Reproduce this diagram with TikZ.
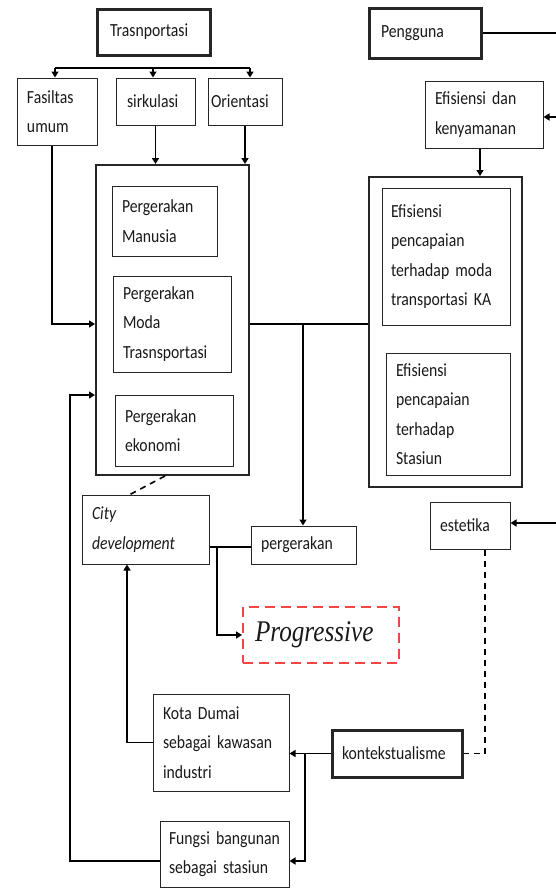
\documentclass[tikz,border=0pt]{standalone}
\usepackage{fontspec}
\setmainfont{Carlito}[FakeStretch=0.85,WordSpace=0.6]
\newfontfamily\progfont[FakeStretch=0.84]{Liberation Serif}
\usetikzlibrary{arrows.meta}
\definecolor{progred}{RGB}{240,70,70}
\hyphenpenalty=10000
\exhyphenpenalty=10000
\tikzset{
  bx/.style={draw=black!85, line width=1pt, inner ysep=0pt, align=left,
    font=\fontsize{18.5}{29.5}\selectfont, text=black!90},
  thickbx/.style={bx, line width=3pt},
  midbx/.style={bx, line width=2pt},
  progbx/.style={draw=progred, line width=2pt, dash pattern=on 10pt off 6pt, inner ysep=0pt,
    align=left, font=\fontsize{30}{32}\selectfont\progfont\itshape, text=black!90},
  place/.style args={#1,#2,#3,#4,#5}{at={({(#1+#3)/2},{(#2+#4)/2})},
    minimum width={(#3-#1)*1pt}, minimum height={(#4-#2)*1pt},
    text width={(#3-#1-2*#5)*1pt}, inner xsep=#5pt},
  conn/.style={line width=1.8pt},
  arr/.style={conn, -{Triangle[length=6pt,width=7pt]}},
  dsh/.style={line width=1.6pt, dash pattern=on 6pt off 5pt},
}
\begin{document}
\begin{tikzpicture}[x=1pt,y=-1pt]
\useasboundingbox (0,0) rectangle (555,889);
% nodes
\node[thickbx, place={97,9,210,55,13}] (trans) {Trasnportasi};
\node[bx, place={17,78,97,145,10}] (fas) {Fasiltas\\umum};
\node[bx, place={116,78,195,125,11}] (sirk) {sirkulasi};
\node[bx, place={208,78,282,125,3}] (ori) {Orientasi};
\node[midbx, place={96,165,249,475,5}] (main) {};
\node[bx, place={112,186,217,256,10}] (pm) {Pergerakan\\Manusia};
\node[bx, place={113,276,231,372,10}] (pmt) {Pergerakan\\Moda\\Trasnsportasi};
\node[bx, place={115,395,233,466,10}] (pe) {Pergerakan\\ekonomi};
\node[thickbx, place={369,8,481,58,12}] (peng) {Pengguna};
\node[bx, place={425,81,543,148,10}] (efk) {Efisiensi~dan\\kenyamanan};
\node[midbx, place={369,177,522,487,5}] (eff) {};
\node[bx, place={382,188,510,325,9}] (ef1) {Efisiensi\\pencapaian\\terhadap~moda\\transportasi~KA\\[4pt]};
\node[bx, place={386,353,510,475,10}] (ef2) {Efisiensi\\pencapaian\\terhadap\\Stasiun};
\node[bx, place={82,495,209,564,10}, font=\fontsize{18.5}{29.5}\selectfont\itshape] (city) {City\\development};
\node[bx, place={251,526,356,564,10}] (perg) {pergerakan};
\node[progbx, place={243,607,399,663,12}] (prog) {Progressive};
\node[bx, place={430,502,510,549,10}] (est) {estetika};
\node[bx, place={153,694,289,791,10}] (kota) {Kota~Dumai\\sebagai~kawasan\\industri};
\node[thickbx, place={332,730,462,777,10}] (kont) {kontekstualisme};
\node[bx, place={160,821,289,887,9}] (fung) {Fungsi~bangunan\\sebagai~stasiun};
% helper coordinates
\coordinate (bar1) at (55,68);
\coordinate (bar2) at (153,68);
\coordinate (bar3) at (250,68);
\coordinate (f1) at (52,0);
\coordinate (y324) at (0,324);
\coordinate (x303) at (303,0);
\coordinate (edge1) at (556,33);
\coordinate (edge2) at (556,117);
\coordinate (edge3) at (556,523);
\coordinate (x480) at (480,0);
\coordinate (d1) at (165,0);
\coordinate (d2) at (130,0);
\coordinate (y547) at (0,547);
\coordinate (x217) at (217,0);
\coordinate (x485) at (485,0);
\coordinate (x305) at (305,0);
\coordinate (y861) at (0,861);
\coordinate (x127) at (127,0);
\coordinate (x70) at (70,0);
\coordinate (y395) at (0,395);
% connectors
\draw[conn, line width=2.4pt] (bar1) -- (bar3);
\draw[arr] (bar1) -- (bar1 |- fas.north);
\draw[arr] (bar2) -- (bar2 |- sirk.north);
\draw[arr] (bar3) -- (bar3 |- ori.north);
\draw[arr] (sirk.south) -- (main.north -| sirk.south);
\draw[arr] (ori.south) -- (main.north -| ori.south);
\draw[arr] (fas.south -| f1) |- (main.west |- y324);
\draw[conn] (main.east |- y324) -- (eff.west |- y324);
\draw[arr] (x303 |- y324) -- (perg.north -| x303);
\draw[conn] (peng.east) -- (edge1);
\draw[arr] (edge2) -- (efk.east |- edge2);
\draw[arr] (efk.south -| x480) -- (eff.north -| x480);
\draw[dsh] (main.south -| d1) -- (city.north -| d2);
\draw[conn] (city.east |- y547) -- (perg.west |- y547);
\draw[arr] (x217 |- y547) |- (prog.west);
\draw[arr] (edge3) -- (est.east |- edge3);
\draw[dsh] (est.south -| x485) |- (kont.east);
\draw[arr] (kont.west) -- (kota.east |- kont.west);
\draw[arr] (x305 |- kont.west) |- (fung.east |- y861);
\draw[arr] (kota.west) -| (city.south -| x127);
\draw[arr] (fung.west |- y861) -| (x70 |- y395) -- (main.west |- y395);
\end{tikzpicture}
\end{document}
